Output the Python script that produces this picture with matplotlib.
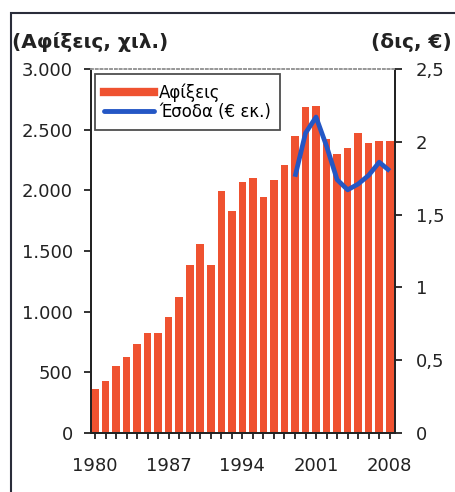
import matplotlib
matplotlib.use("Agg")
import matplotlib.pyplot as plt
from matplotlib.lines import Line2D
from matplotlib.patches import Rectangle
from matplotlib.ticker import FuncFormatter, MultipleLocator

# arrivals (thousands), 1980-2008
years = list(range(1980, 2009))
arrivals = [362, 430, 556, 627, 737, 824, 824, 955, 1117, 1383, 1561, 1383,
            1991, 1832, 2065, 2101, 1941, 2087, 2210, 2449, 2687, 2695,
            2427, 2303, 2353, 2476, 2389, 2408, 2408]

# revenue (bn EUR), 1999-2008
rev_years = list(range(1999, 2009))
revenue = [1.76, 2.06, 2.17, 1.97, 1.74, 1.67, 1.71, 1.77, 1.86, 1.80]

year_labels = [1980, 1987, 1994, 2001, 2008]
bar_color = "#EF5230"
line_color = "#2457C5"

plt.rcParams["font.family"] = "DejaVu Sans"

fig = plt.figure(figsize=(4.55, 4.92), dpi=100)
ax = fig.add_axes([91 / 455, 59 / 492, 304 / 455, 364 / 492])

ax.bar(years, arrivals, width=0.72, color=bar_color, zorder=2)
ax.set_xlim(1979.62, 2008.5)
ax.set_ylim(0, 3000)
ax.yaxis.set_major_locator(MultipleLocator(500))
ax.yaxis.set_major_formatter(FuncFormatter(lambda v, p: f"{int(v):,}".replace(",", ".")))
ax.set_xticks(year_labels)
ax.set_xticks(years, minor=True)

ax2 = ax.twinx()
ax2.plot(rev_years, revenue, color=line_color, lw=3.4, solid_capstyle="butt",
         solid_joinstyle="round", zorder=3)
ax2.set_ylim(0, 2.5)
ax2.yaxis.set_major_locator(MultipleLocator(0.5))
ax2.yaxis.set_major_formatter(FuncFormatter(lambda v, p: f"{v:g}".replace(".", ",")))

for a in (ax, ax2):
    for s in a.spines.values():
        s.set_linewidth(1.3)
        s.set_color("#222222")
    a.spines["top"].set_color("#999999")
    a.spines["top"].set_linestyle(":")

ax.tick_params(axis="y", direction="out", length=5, width=1.3, labelsize=13,
               pad=8, colors="#222222")
ax.tick_params(axis="x", which="both", direction="inout", length=8, width=1.3,
               labelsize=13, pad=13, colors="#222222")
ax2.tick_params(axis="y", direction="out", length=5, width=1.3, labelsize=13,
                pad=10, colors="#222222")

handles = [Line2D([], [], color=bar_color, lw=6),
           Line2D([], [], color=line_color, lw=3.5, solid_capstyle="round")]
leg = ax2.legend(handles, ["Αφίξεις", "Έσοδα (€ εκ.)"], loc="upper left",
                 bbox_to_anchor=(0.013, 0.985), fontsize=12, frameon=True,
                 fancybox=False, edgecolor="#222222", handlelength=3.0,
                 handletextpad=0.3, borderpad=0.55, labelspacing=0.05,
                 borderaxespad=0)
leg.get_frame().set_linewidth(1.3)

fig.text(12 / 455, 1 - 42 / 492, "(Αφίξεις, χιλ.)", fontsize=14.5,
         fontweight="bold", ha="left", va="center", color="#222222")
fig.text(452 / 455, 1 - 43 / 492, "(δις, €)", fontsize=14.5,
         fontweight="bold", ha="right", va="center", color="#222222")

# outer frame of the original figure
fig.add_artist(Rectangle((11 / 455, -0.1), 2, 1.1 - 13 / 492,
                         transform=fig.transFigure, fill=False,
                         lw=1.5, ec="#2a2d3a"))

fig.savefig("out.png", dpi=100)
